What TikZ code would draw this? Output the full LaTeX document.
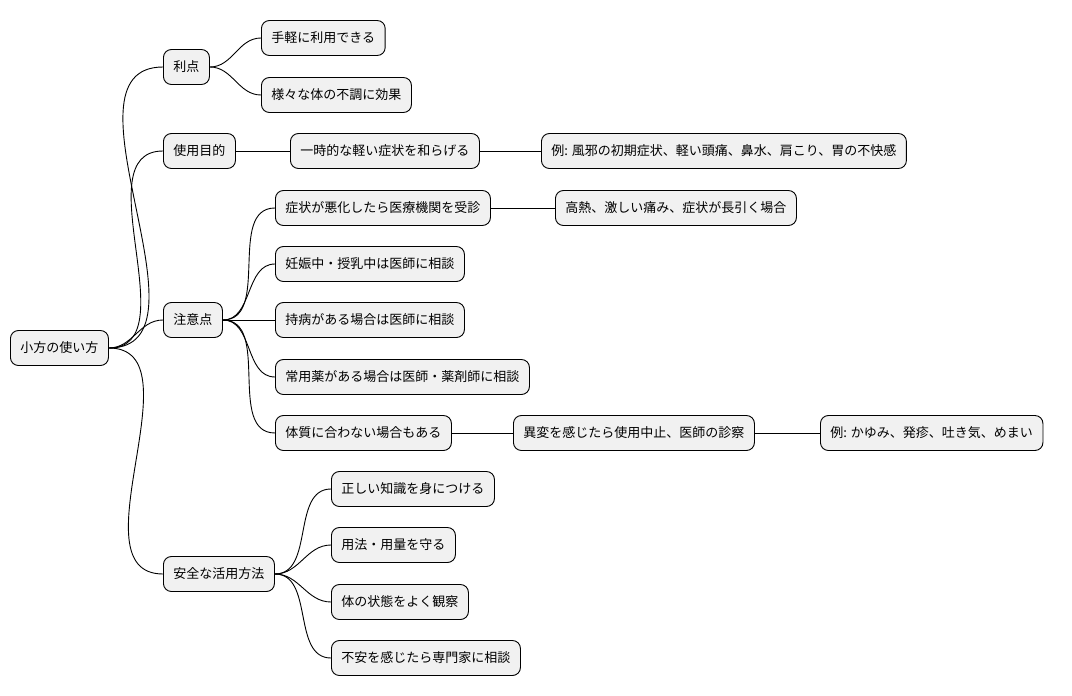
\documentclass[tikz,border=0pt]{standalone}
\usepackage{fontspec}
\newfontfamily\cjk{Noto Sans CJK JP}
\begin{document}
\begin{tikzpicture}[x=1pt,y=-1pt,
  box/.style={draw=black,line width=0.9pt,fill={rgb,255:red,241;green,241;blue,241},rounded corners=8pt,minimum height=35pt,inner xsep=10pt,anchor=west,font=\cjk\fontsize{13}{15}\selectfont},
  lk/.style={line width=0.9pt}]
\useasboundingbox (0,0) rectangle (1072,696);
\node[box] (r) at (10,348) {小方の使い方};
\node[box] (a) at (163,67) {利点};
\node[box] (a1) at (261,38) {手軽に利用できる};
\node[box] (a2) at (261,95) {様々な体の不調に効果};
\node[box] (b) at (163,151) {使用目的};
\node[box] (b1) at (290,151) {一時的な軽い症状を和らげる};
\node[box] (b2) at (541,151) {例: 風邪の初期症状、軽い頭痛、鼻水、肩こり、胃の不快感};
\node[box] (c) at (163,320) {注意点};
\node[box] (c1) at (275,208) {症状が悪化したら医療機関を受診};
\node[box] (c1a) at (555,208) {高熱、激しい痛み、症状が長引く場合};
\node[box] (c2) at (275,264) {妊娠中・授乳中は医師に相談};
\node[box] (c3) at (275,320) {持病がある場合は医師に相談};
\node[box] (c4) at (275,377) {常用薬がある場合は医師・薬剤師に相談};
\node[box] (c5) at (275,433) {体質に合わない場合もある};
\node[box] (c5a) at (513,433) {異変を感じたら使用中止、医師の診察};
\node[box] (c5b) at (820,433) {例: かゆみ、発疹、吐き気、めまい};
\node[box] (d) at (163,574) {安全な活用方法};
\node[box] (d1) at (331,489) {正しい知識を身につける};
\node[box] (d2) at (331,545) {用法・用量を守る};
\node[box] (d3) at (331,602) {体の状態をよく観察};
\node[box] (d4) at (331,658) {不安を感じたら専門家に相談};
\foreach \p/\c in {r/a,r/b,r/c,r/d,a/a1,a/a2,b/b1,b/b2,c/c1,c/c2,c/c3,c/c4,c/c5,d/d1,d/d2,d/d3,d/d4}{}
\foreach \p/\c in {r/a,r/b,r/c,r/d,a/a1,a/a2,c/c1,c/c2,c/c4,c/c5,d/d1,d/d2,d/d3,d/d4}
  \draw[lk] (\p.east) to[out=0,in=180] (\c.west);
\foreach \p/\c in {b/b1,b1/b2,c/c3,c1/c1a,c5/c5a,c5a/c5b}
  \draw[lk] (\p.east) -- (\c.west);
\end{tikzpicture}
\end{document}
